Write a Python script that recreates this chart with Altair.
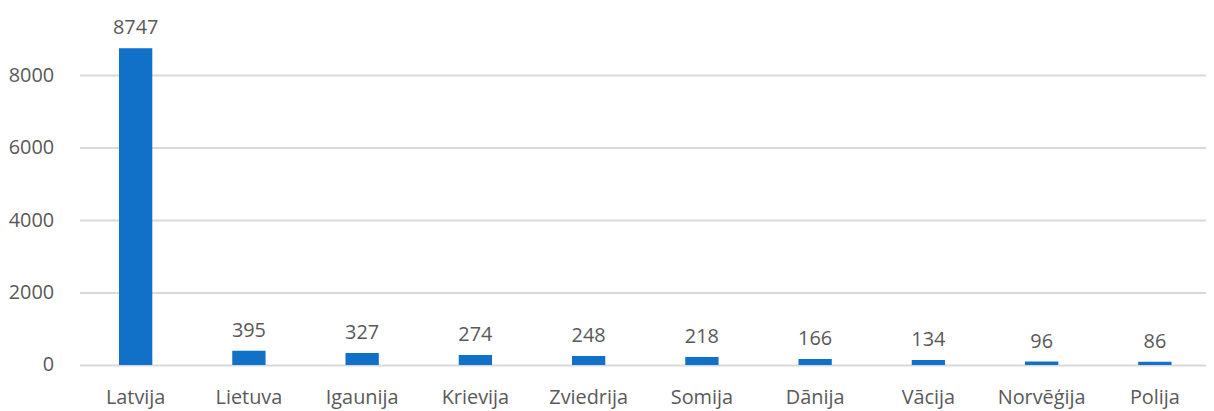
import altair as alt
import pandas as pd

countries = ["Latvija", "Lietuva", "Igaunija", "Krievija", "Zviedrija",
             "Somija", "Dānija", "Vācija", "Norvēģija", "Polija"]
values = [8747, 395, 327, 274, 248, 218, 166, 134, 96, 86]
y_ticks = [0, 2000, 4000, 6000, 8000]

df = pd.DataFrame({"country": countries, "value": values})

FONT = "Open Sans"
GREY = "#595959"

x = alt.X("country:N", sort=countries, title=None,
          scale=alt.Scale(paddingInner=0.706, paddingOuter=0.3265, align=0.534),
          axis=alt.Axis(labelAngle=0, labelFont=FONT, labelFontSize=20,
                        labelColor=GREY, ticks=False, domain=False,
                        labelPadding=23))
y = alt.Y("value:Q", title=None,
          scale=alt.Scale(domain=[0, 9825], nice=False),
          axis=alt.Axis(values=y_ticks, labelFont=FONT, labelFontSize=20,
                        labelColor=GREY, ticks=False, domain=False,
                        labelPadding=26, gridColor="#d9d9d9", gridWidth=2,
                        format="d"))

base = alt.Chart(df).encode(x=x, y=y)
bars = base.mark_bar(color="#1170C8")
labels = base.mark_text(baseline="alphabetic", dy=-14, font=FONT,
                        fontSize=20, color=GREY).encode(text="value:Q")

chart = (bars + labels).properties(
    width=1134, height=358,
    padding={"left": 0, "top": 0, "right": 0, "bottom": 1}
).configure_view(stroke=None)

chart.save("out.html", embed_options={"renderer": "svg", "actions": False})
